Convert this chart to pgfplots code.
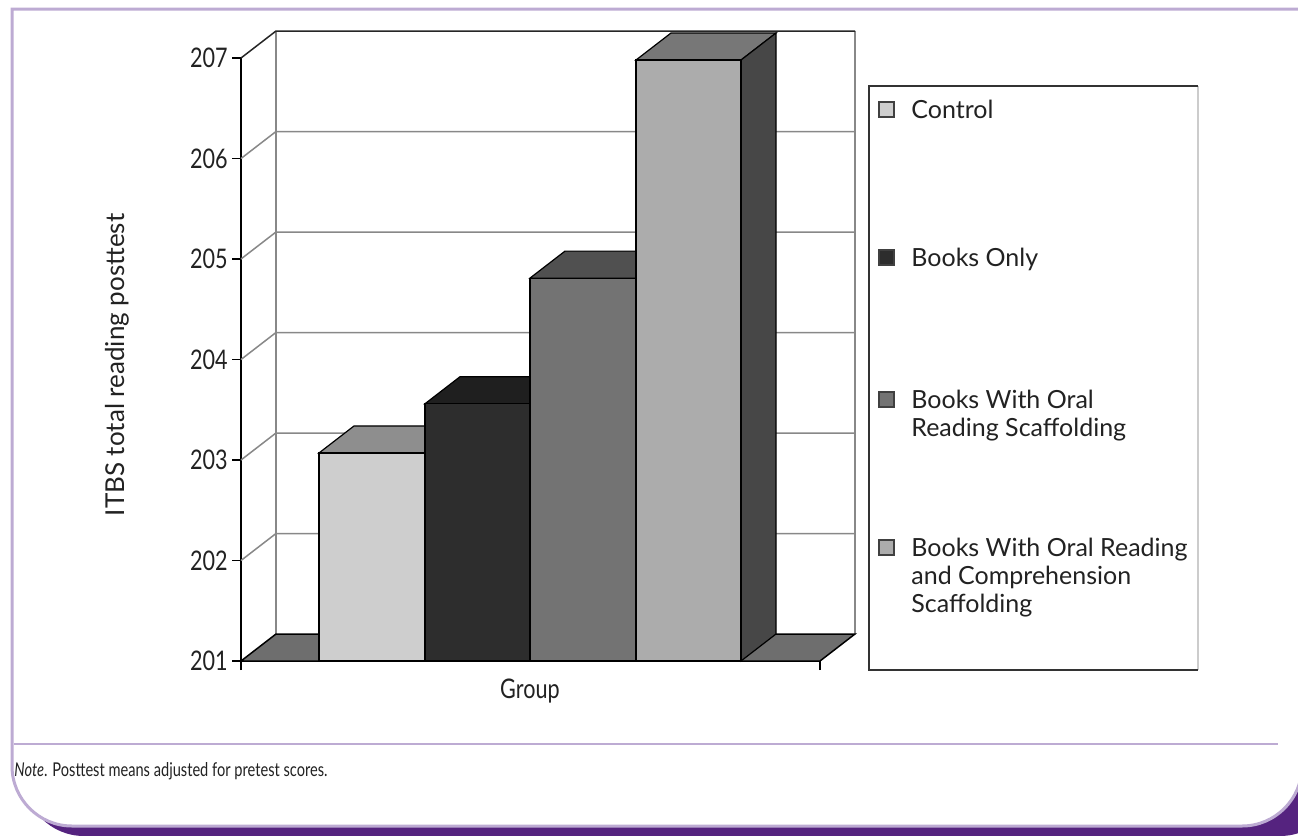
\documentclass[border=0pt]{standalone}
\usepackage{fontspec}
\setmainfont{Lato}
\newfontfamily\condfont[FakeStretch=0.8]{Lato}
\newfontfamily\notefont[FakeStretch=0.77]{Lato}
\usepackage{pgfplots}
\pgfplotsset{compat=1.18}
\definecolor{framec}{HTML}{BDABD3}
\definecolor{shadowc}{HTML}{55237F}
\definecolor{gridc}{HTML}{888888}
\definecolor{floorc}{HTML}{6E6E6E}
\definecolor{cfront}{HTML}{CECECE}
\definecolor{ctop}{HTML}{8E8E8E}
\definecolor{bfront}{HTML}{2D2D2D}
\definecolor{btop}{HTML}{1F1F1F}
\definecolor{ofront}{HTML}{737373}
\definecolor{otop}{HTML}{505050}
\definecolor{pfront}{HTML}{ACACAC}
\definecolor{ptop}{HTML}{777777}
\definecolor{pside}{HTML}{474747}
\definecolor{txt}{HTML}{222222}
\begin{document}
\begin{tikzpicture}
\useasboundingbox (0,0) rectangle (649pt,-418pt);
\begin{scope}[x=0.5pt,y=-0.5pt]
  \fill[shadowc, rounded corners=30pt] (24,40) rectangle (1340,836);
  \filldraw[fill=white, draw=framec, line width=1.5pt]
     (1310,9) -- (12,9) [rounded corners=30pt] -- (12,826) -- (1302,826) -- (1302,9) [sharp corners] -- cycle;
  \draw[framec, line width=1pt] (14,744) -- (1278,744);
  \node[anchor=base west, inner sep=0pt, text=txt, font=\notefont\fontsize{9.5}{11}\selectfont] at (14,776)
     {\textit{Note}. Posttest means adjusted for pretest scores.};
\end{scope}
\begin{axis}[
  at={(120.5pt,-330.5pt)}, anchor=south west,
  scale only axis, width=289.5pt, height=301.5pt,
  xmin=241, xmax=820, ymin=201, ymax=207,
  clip=false,
  axis x line*=bottom, axis y line*=left,
  axis line style={black, line width=0.75pt, -},
  ytick={201,202,203,204,205,206,207},
  xtick={241,820}, xticklabels={},
  tick align=outside,
  major tick length=4.5pt,
  tick style={black, line width=0.75pt},
  /pgf/number format/assume math mode=true,
  yticklabel style={font=\condfont\fontsize{13.5}{14}\selectfont, text=txt, inner sep=2pt},
  xlabel={Group}, ylabel={ITBS total reading posttest},
  xlabel style={at={(axis description cs:0.499,-0.05)}, anchor=center, font=\condfont\fontsize{13.5}{14}\selectfont, text=txt},
  ylabel style={at={(axis description cs:-0.214,0.491)}, anchor=center, font=\fontsize{13}{14}\selectfont, text=txt},
]
% back wall and left wall grid
\addplot[gridc, line width=0.75pt] coordinates {(241,202) (276,202.2687) (855,202.2687)};
\addplot[gridc, line width=0.75pt] coordinates {(241,203) (276,203.2687) (855,203.2687)};
\addplot[gridc, line width=0.75pt] coordinates {(241,204) (276,204.2687) (855,204.2687)};
\addplot[gridc, line width=0.75pt] coordinates {(241,205) (276,205.2687) (855,205.2687)};
\addplot[gridc, line width=0.75pt] coordinates {(241,206) (276,206.2687) (855,206.2687)};
\addplot[gridc, line width=0.75pt] coordinates {(276,201.2687) (276,207.2687)};
\addplot[gridc, line width=0.75pt] coordinates {(855,201.2687) (855,207.2687)};
\addplot[black!85, line width=0.75pt] coordinates {(241,207) (276,207.2687) (855,207.2687)};
% floor
\addplot[fill=floorc, draw=black, line width=0.75pt] coordinates {(241,201) (820,201) (855,201.2687) (276,201.2687)} -- cycle;
% Control
\addplot[fill=ctop, draw=black, line width=0.6pt] coordinates {(319,203.07) (425,203.07) (460,203.3387) (354,203.3387)} -- cycle;
\addplot[fill=cfront, draw=black, line width=0.6pt] coordinates {(319,201) (319,203.07) (425,203.07) (425,201)} -- cycle;
% Books Only
\addplot[fill=btop, draw=black, line width=0.6pt] coordinates {(425,203.56) (530,203.56) (565,203.8287) (460,203.8287)} -- cycle;
\addplot[fill=bfront, draw=black, line width=0.6pt] coordinates {(425,201) (425,203.56) (530,203.56) (530,201)} -- cycle;
% Books With Oral Reading Scaffolding
\addplot[fill=otop, draw=black, line width=0.6pt] coordinates {(530,204.81) (636,204.81) (671,205.0787) (565,205.0787)} -- cycle;
\addplot[fill=ofront, draw=black, line width=0.6pt] coordinates {(530,201) (530,204.81) (636,204.81) (636,201)} -- cycle;
% Books With Oral Reading and Comprehension Scaffolding
\addplot[fill=ptop, draw=black, line width=0.6pt] coordinates {(636,206.98) (741,206.98) (776,207.2487) (671,207.2487)} -- cycle;
\addplot[fill=pside, draw=black, line width=0.6pt] coordinates {(741,201) (776,201.2687) (776,207.2487) (741,206.98)} -- cycle;
\addplot[fill=pfront, draw=black, line width=0.6pt] coordinates {(636,201) (636,206.98) (741,206.98) (741,201)} -- cycle;
\end{axis}
\begin{scope}[x=0.5pt,y=-0.5pt]
  \draw[black!20, line width=0.6pt] (1198,86) -- (1198,670);
  \draw[black!80, line width=0.75pt] (1198,86) -- (869,86) -- (869,670) -- (1198,670);
  \begin{scope}[every node/.style={anchor=base west, inner sep=0pt, text=txt, font=\fontsize{12.5}{14}\selectfont}]
    \filldraw[fill=cfront, draw=black!75, line width=0.6pt] (879,102) rectangle (894,117);
    \node at (911,118) {Control};
    \filldraw[fill=bfront, draw=black!75, line width=0.6pt] (879,250) rectangle (894,265);
    \node at (911,266) {Books Only};
    \filldraw[fill=ofront, draw=black!75, line width=0.6pt] (879,392) rectangle (894,407);
    \node at (911,408) {Books With Oral};
    \node at (911,436) {Reading Scaffolding};
    \filldraw[fill=pfront, draw=black!75, line width=0.6pt] (879,540) rectangle (894,555);
    \node at (911,556) {Books With Oral Reading};
    \node at (911,584) {and Comprehension};
    \node at (911,612) {Scaffolding};
  \end{scope}
\end{scope}
\end{tikzpicture}
\end{document}
